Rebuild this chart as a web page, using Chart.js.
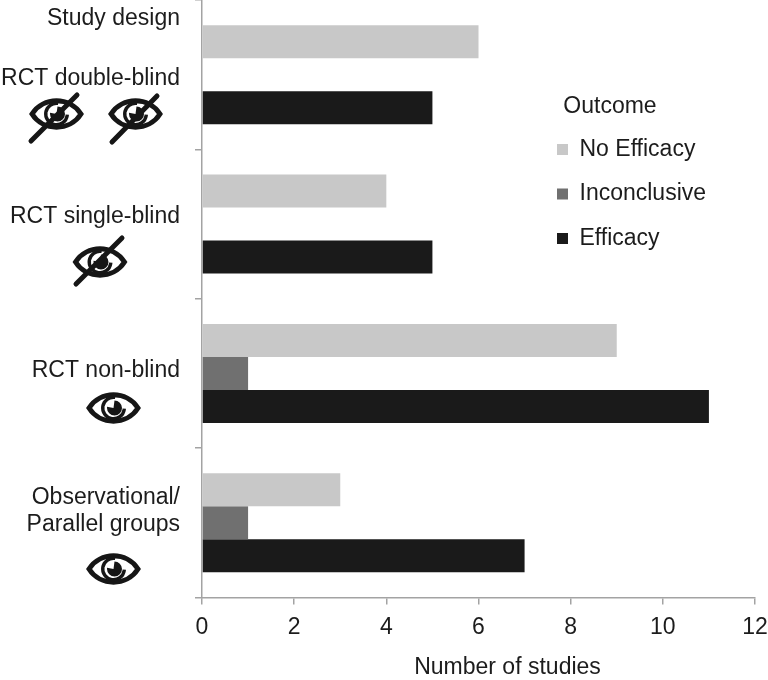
<!DOCTYPE html>
<html><head><meta charset="utf-8">
<style>html,body{margin:0;padding:0;background:#fff}canvas{display:block}</style>
<script src="https://cdn.jsdelivr.net/npm/chart.js@4"></script>
</head><body><canvas id="c" width="768" height="680"></canvas>
<script>
const categories = ["RCT double-blind", "RCT single-blind", "RCT non-blind", ["Observational/", "Parallel groups"]];
const noEfficacy = [6, 4, 9, 3];
const inconclusive = [0, 0, 1, 1];
const efficacy = [5, 5, 11, 7];
const xStep = 2;
const xMax = 12;
const groupHeading = "Study design";
const legendTitle = "Outcome";
const axisTitle = "Number of studies";

const FONT = '"Liberation Sans", Arial, sans-serif';
const FS = 23;
const TXT = '#1c1c1c', AX = '#a3a3a3';
const labelShift = [3.5, -7, -3, -12];
const eyes = [
  {x:56.5, y:114, slash:[31,141,77,95]},
  {x:135.5, y:114, slash:[112,142,157,96]},
  {x:100, y:262, slash:[76,284,122,238]},
  {x:113.5, y:408},
  {x:113.5, y:569}
];

function drawEye(ctx, e) {
  const w = 24.5, h = 13;
  ctx.save();
  ctx.translate(e.x, e.y);
  ctx.beginPath();
  ctx.moveTo(-w, 0);
  ctx.bezierCurveTo(-w*0.55, -h*1.35, w*0.55, -h*1.35, w, 0);
  ctx.bezierCurveTo(w*0.55, h*1.35, -w*0.55, h*1.35, -w, 0);
  ctx.closePath();
  ctx.lineWidth = 5; ctx.strokeStyle = '#161616'; ctx.lineJoin = 'miter'; ctx.stroke();
  ctx.beginPath();
  ctx.arc(0, 0, 10.8, -Math.PI*0.45, Math.PI*0.02, true);
  ctx.lineWidth = 3.4; ctx.stroke();
  ctx.beginPath();
  ctx.moveTo(0, 0);
  ctx.arc(1, 0, 7.5, -Math.PI*0.5, Math.PI*1.05);
  ctx.closePath();
  ctx.fillStyle = '#161616'; ctx.fill();
  ctx.restore();
  if (e.slash) {
    const s = e.slash;
    ctx.save();
    ctx.beginPath(); ctx.moveTo(s[0], s[1]); ctx.lineTo(s[2], s[3]);
    ctx.lineWidth = 5; ctx.lineCap = 'round'; ctx.strokeStyle = '#161616'; ctx.stroke();
    ctx.restore();
  }
}

const decor = {
  id: 'decor',
  afterLayout(chart) {
    const l = chart.legend;
    l.left = 535.5; l.width = 149; l.right = 730;
    l.top = 95.5; l.height = 200; l.bottom = l.top + l.height;
  },
  beforeDraw(chart) {
    const items = chart.scales.y.getLabelItems();
    items.forEach((it, i) => {
      if (!it._shifted) { it.options.translation[1] += labelShift[i]; it._shifted = true; }
    });
    const sx = chart.scales.x;
    if (!sx._titleMoved) {
      const orig = sx.drawTitle;
      sx.drawTitle = function () {
        this.ctx.save();
        this.ctx.translate(29, 2.5);
        orig.call(this);
        this.ctx.restore();
      };
      sx._titleMoved = true;
    }
  },
  afterDraw(chart) {
    const ctx = chart.ctx;
    ctx.save();
    ctx.font = FS + 'px ' + FONT; ctx.fillStyle = TXT;
    ctx.textAlign = 'right'; ctx.textBaseline = 'middle';
    ctx.fillText(groupHeading, 180, 19);
    ctx.restore();
    eyes.forEach(e => drawEye(ctx, e));
  }
};

new Chart(document.getElementById('c'), {
  type: 'bar',
  plugins: [decor],
  data: {
    labels: categories,
    datasets: [
      {label: 'No Efficacy', data: noEfficacy, backgroundColor: '#c8c8c8', borderWidth: 0},
      {label: 'Inconclusive', data: inconclusive, backgroundColor: '#707070', borderWidth: 0},
      {label: 'Efficacy', data: efficacy, backgroundColor: '#1a1a1a', borderWidth: 0}
    ]
  },
  options: {
    indexAxis: 'y',
    responsive: false,
    animation: false,
    events: [],
    layout: {padding: {left: 0, top: 0, right: 13, bottom: 0}},
    datasets: {bar: {categoryPercentage: 0.663, barPercentage: 1}},
    plugins: {
      tooltip: {enabled: false},
      legend: {
        position: 'chartArea',
        align: 'start',
        title: {display: true, text: legendTitle, color: TXT, position: 'center',
                font: {family: FONT, size: FS, lineHeight: 1}, padding: {top: 0, bottom: -2}},
        labels: {boxWidth: 11, boxHeight: 11, padding: 21.5, color: TXT, font: {family: FONT, size: FS}}
      }
    },
    scales: {
      y: {
        grid: {drawOnChartArea: false, drawTicks: true, tickLength: 7, color: AX, lineWidth: 1.5},
        border: {color: AX, width: 1.5},
        ticks: {color: TXT, padding: 15, font: {family: FONT, size: FS, lineHeight: 1.17}, autoSkip: false},
        afterFit(s) { s.width = 202; s.paddingTop = 0; s.paddingBottom = 0; }
      },
      x: {
        min: 0, max: xMax,
        grid: {drawOnChartArea: false, drawTicks: true, tickLength: 7, color: AX, lineWidth: 1.5},
        border: {color: AX, width: 1.5},
        ticks: {stepSize: xStep, color: TXT, padding: 9, font: {family: FONT, size: FS}, maxRotation: 0},
        title: {display: true, text: axisTitle, color: TXT, font: {family: FONT, size: FS}, padding: {top: 0, bottom: 1.4}},
        afterFit(s) { s.height = 82.5; s.paddingRight = 0; s.paddingLeft = 0; }
      }
    }
  }
});
</script></body></html>
